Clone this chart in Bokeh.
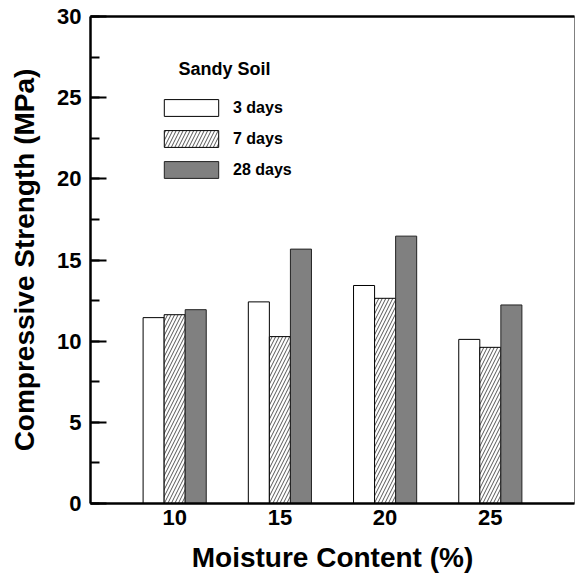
from bokeh.plotting import figure
from bokeh.models import (ColumnDataSource, Range1d, SingleIntervalTicker, FixedTicker,
                          LinearAxis, Legend, LegendItem, Label)
from bokeh.transform import dodge
from bokeh.embed import file_html
from bokeh.resources import INLINE

# ---- data ----
moisture = [10, 15, 20, 25]
days3 = [11.45, 12.42, 13.43, 10.11]
days7 = [11.63, 10.28, 12.64, 9.62]
days28 = [11.94, 15.67, 16.47, 12.23]
series_labels = ["3 days", "7 days", "28 days"]
legend_title = "Sandy Soil"
x_label = "Moisture Content (%)"
y_label = "Compressive Strength (MPa)"
x_ticks = [10, 15, 20, 25]

src = ColumnDataSource(dict(moisture=moisture, d3=days3, d7=days7, d28=days28))

FONT = "Liberation Sans"

p = figure(width=575, height=575, output_backend="svg", toolbar_location=None,
           x_range=Range1d(6, 29), y_range=Range1d(0, 30),
           x_axis_location=None, y_axis_location=None,
           min_border_left=90, min_border_right=1, min_border_top=16, min_border_bottom=72)
p.grid.visible = False
p.outline_line_color = "#808080"
p.outline_line_width = 1
p.background_fill_color = "white"
p.border_fill_color = "white"

r3 = p.vbar(x=dodge("moisture", -1, range=p.x_range), top="d3", width=1, source=src,
            fill_color="white", line_color="black", line_width=1)
r7 = p.vbar(x=dodge("moisture", 0, range=p.x_range), top="d7", width=1, source=src,
            fill_color="white", line_color="black", line_width=1,
            hatch_pattern="/", hatch_color="#555555", hatch_scale=7, hatch_weight=1)
r28 = p.vbar(x=dodge("moisture", 1, range=p.x_range), top="d28", width=1, source=src,
             fill_color="#808080", line_color="#222222", line_width=1)


def zero_ticks(ax):
    ax.major_tick_in = 0
    ax.major_tick_out = 0
    ax.minor_tick_in = 0
    ax.minor_tick_out = 0
    ax.major_tick_line_color = None
    ax.minor_tick_line_color = None


# left axis
yax = LinearAxis(ticker=SingleIntervalTicker(interval=5, num_minor_ticks=2))
yax.axis_label = y_label
yax.axis_label_text_font = FONT
yax.axis_label_text_font_style = "bold"
yax.axis_label_text_font_size = "28px"
yax.axis_label_text_color = "black"
yax.axis_label_standoff = 14
yax.major_label_text_font = FONT
yax.major_label_text_font_style = "bold"
yax.major_label_text_font_size = "22px"
yax.major_label_text_color = "black"
yax.major_label_standoff = 9
yax.major_tick_in = 16
yax.major_tick_out = 0
yax.minor_tick_in = 9
yax.minor_tick_out = 0
yax.axis_line_width = 2.5
yax.major_tick_line_width = 2
yax.minor_tick_line_width = 2
p.add_layout(yax, "left")

# bottom axis (tick labels)
xax = LinearAxis(ticker=FixedTicker(ticks=x_ticks))
xax.major_label_text_font = FONT
xax.major_label_text_font_style = "bold"
xax.major_label_text_font_size = "22px"
xax.major_label_text_color = "black"
xax.major_label_standoff = 6
zero_ticks(xax)
xax.axis_line_width = 2.5
p.add_layout(xax, "below")

# bottom axis title (second panel below)
xlab = LinearAxis(ticker=FixedTicker(ticks=[]))
xlab.axis_label = x_label
xlab.axis_label_text_font = FONT
xlab.axis_label_text_font_style = "bold"
xlab.axis_label_text_font_size = "28px"
xlab.axis_label_text_color = "black"
xlab.axis_label_standoff = 14
xlab.major_label_standoff = 0
xlab.major_label_text_font_size = "0px"
xlab.axis_line_color = None
zero_ticks(xlab)
p.add_layout(xlab, "below")

# top frame line
tax = LinearAxis(ticker=FixedTicker(ticks=[]))
tax.major_label_text_font_size = "0px"
zero_ticks(tax)
tax.axis_line_width = 2.5
tax.major_label_standoff = 0
p.add_layout(tax, "above")

legend = Legend(items=[LegendItem(label=series_labels[0], renderers=[r3]),
                       LegendItem(label=series_labels[1], renderers=[r7]),
                       LegendItem(label=series_labels[2], renderers=[r28])],
                location=(67, 323),
                label_text_font=FONT, label_text_font_style="bold", label_text_font_size="16px",
                label_text_color="black",
                glyph_width=68, glyph_height=21, spacing=10, label_standoff=8,
                padding=0, margin=0, border_line_color=None, background_fill_alpha=0)
p.add_layout(legend, "center")

title_lbl = Label(x=88, y=435, x_units="screen", y_units="screen", text=legend_title,
                  text_font=FONT, text_font_style="bold", text_font_size="18px",
                  text_color="black", text_align="left", text_baseline="middle")
p.add_layout(title_lbl)

open("out.html", "w").write(file_html(p, INLINE))
